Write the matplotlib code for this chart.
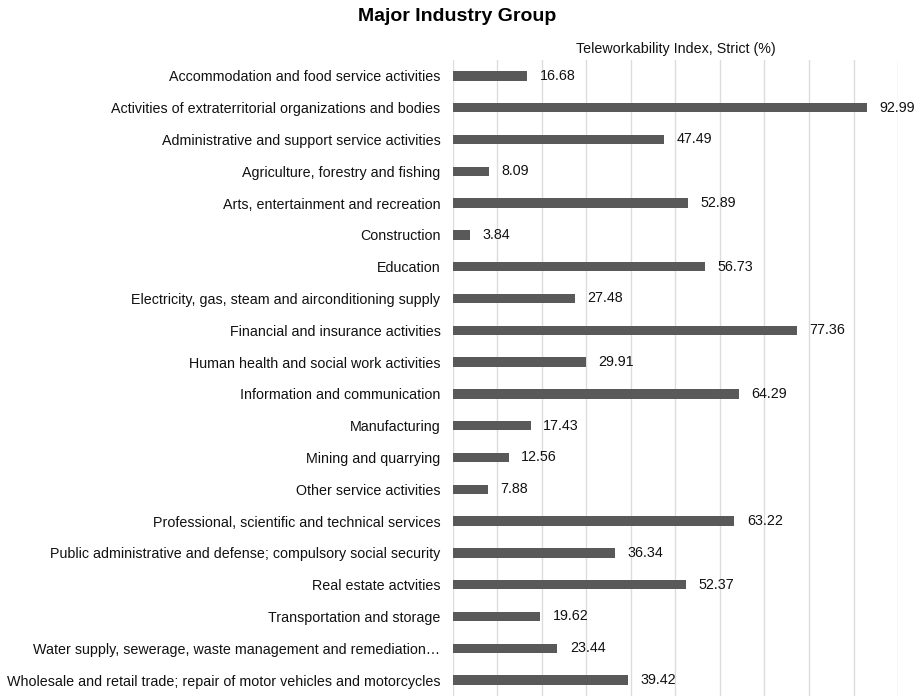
import matplotlib.pyplot as plt
import numpy as np

plt.rcParams['font.family'] = ['Liberation Sans', 'DejaVu Sans']

industries = [
    'Accommodation and food service activities',
    'Activities of extraterritorial organizations and bodies',
    'Administrative and support service activities',
    'Agriculture, forestry and fishing',
    'Arts, entertainment and recreation',
    'Construction',
    'Education',
    'Electricity, gas, steam and airconditioning supply',
    'Financial and insurance activities',
    'Human health and social work activities',
    'Information and communication',
    'Manufacturing',
    'Mining and quarrying',
    'Other service activities',
    'Professional, scientific and technical services',
    'Public administrative and defense; compulsory social security',
    'Real estate actvities',
    'Transportation and storage',
    'Water supply, sewerage, waste management and remediation\u2026',
    'Wholesale and retail trade; repair of motor vehicles and motorcycles',
]
tele_strict = [16.68, 92.99, 47.49, 8.09, 52.89, 3.84, 56.73, 27.48, 77.36, 29.91,
               64.29, 17.43, 12.56, 7.88, 63.22, 36.34, 52.37, 19.62, 23.44, 39.42]

fig = plt.figure(figsize=(9.14, 6.96), dpi=100)
ax = fig.add_axes([0.4956, 0.0, 0.4869, 0.9138])

y = np.arange(len(industries))
ax.barh(y, tele_strict, height=0.29, color='#595959', zorder=3)
for yi, v in zip(y, tele_strict):
    ax.text(v + 2.8, yi, f'{v:.2f}', va='center', ha='left', fontsize=10.3, color='#111111')

ax.set_ylim(len(industries) - 0.5, -0.5)
ax.set_xlim(0, 100)
ax.set_xticks(np.arange(0, 101, 10))
ax.tick_params(axis='x', length=0, labelbottom=False)
ax.set_yticks(y)
ax.set_yticklabels(industries, fontsize=10.3, color='#111111')
ax.tick_params(axis='y', length=0, pad=9)
ax.grid(axis='x', color='#dcdcdc', linewidth=1, zorder=0)
for s in ax.spines.values():
    s.set_visible(False)

ax.set_title('Teleworkability Index, Strict (%)', fontsize=10.3, pad=5, color='#111111')
fig.suptitle('Major Industry Group', fontsize=14, fontweight='bold', x=0.5, y=0.988)

fig.savefig('out.png', dpi=100)
